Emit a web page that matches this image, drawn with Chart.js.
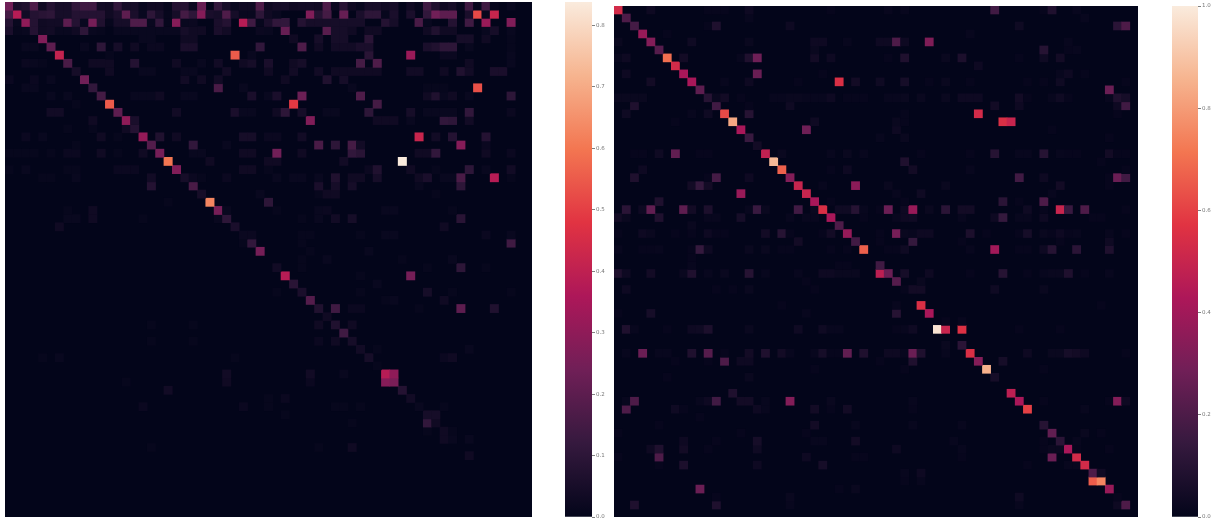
<!DOCTYPE html>
<html>
<head>
<meta charset="utf-8">
<title>heatmaps</title>
<script src="https://cdn.jsdelivr.net/npm/chart.js@4"></script>
<style>
    html, body { margin: 0; padding: 0; background: #fff; overflow: hidden; }
    canvas { position: absolute; display: block; }
    .map { background: #03051a; filter: blur(0.35px); }
</style>
</head>
<body>
<canvas id="map1" class="map" style="left:5px;top:2px"></canvas>
<canvas id="bar1" style="left:565px;top:-8px"></canvas>
<canvas id="map2" class="map" style="left:614px;top:6px"></canvas>
<canvas id="bar2" style="left:1172px;top:-4px"></canvas>
<script>
const leftMax = 0.838;
const rightMax = 1.0;
const leftStep = 0.1;
const rightStep = 0.2;

// each row is {column: value}, anything not listed is 0
const leftRows = [
    {0:.24,1:.055,2:.07,3:.17,4:.03,5:.08,6:.045,7:.045,8:.11,9:.14,10:.14,11:.035,12:.03,13:.11,14:.045,15:.045,16:.015,17:.03,18:.03,19:.01,20:.08,21:.08,22:.02,23:.22,25:.11,26:.045,27:.015,28:.03,29:.03,30:.17,31:.03,32:.045,33:.045,34:.03,35:.035,36:.035,37:.03,38:.17,39:.02,40:.09,41:.03,42:.015,43:.045,44:.045,45:.03,46:.045,48:.03,49:.01,50:.14,51:.07,52:.03,53:.045,54:.01,55:.14,56:.01,57:.14,58:.01,60:.015},
    {0:.15,1:.38,2:.035,3:.08,4:.09,5:.1,6:.045,7:.045,8:.08,9:.08,10:.08,11:.08,12:.03,13:.055,14:.2,15:.055,16:.015,17:.1,18:.045,19:.01,20:.045,21:.15,22:.1,23:.28,24:.055,25:.045,26:.17,27:.045,28:.015,29:.015,30:.1,31:.03,32:.015,36:.27,37:.08,38:.15,40:.22,42:.055,43:.1,44:.1,45:.01,46:.055,48:.055,50:.11,51:.24,52:.2,53:.2,55:.055,56:.52,57:.01,58:.42},
    {0:.08,1:.015,2:.3,3:.08,4:.03,5:.035,6:.035,7:.2,8:.08,9:.015,10:.25,11:.07,12:.01,13:.045,14:.045,15:.17,16:.17,17:.015,18:.11,19:.01,20:.28,21:.015,22:.02,25:.055,26:.08,28:.38,29:.14,30:.01,31:.055,32:.11,33:.11,35:.08,36:.045,37:.045,38:.045,39:.045,40:.045,41:.045,42:.045,45:.08,46:.045,49:.16,50:.015,53:.08,55:.14,57:.32,60:.27},
    {0:.055,1:.01,2:.015,3:.08,4:.03,5:.035,6:.015,7:.015,8:.03,9:.1,10:.015,11:.01,13:.015,14:.015,15:.015,16:.015,17:.015,18:.015,19:.015,20:.015,21:.045,22:.03,23:.03,25:.055,26:.035,30:.02,31:.015,33:.22,38:.19,39:.045,40:.045,41:.03,43:.03,44:.03,50:.03,51:.07,52:.03,53:.03,57:.015,58:.045,60:.015},
    {4:.27,16:.015,17:.015,21:.03,22:.03,34:.03,37:.045,39:.045,40:.045,43:.09,54:.045,55:.045,57:.03,60:.01},
    {2:.015,3:.015,5:.2,9:.015,11:.1,13:.045,15:.03,17:.02,18:.02,21:.055,22:.055,30:.11,35:.17,37:.03,39:.035,40:.035,41:.035,42:.055,43:.055,50:.055,51:.07,52:.1,53:.1,55:.015,60:.01},
    {6:.41,12:.01,27:.55,29:.015,43:.09,48:.32,52:.02,53:.02,60:.015},
    {2:.02,3:.015,4:.01,7:.16,10:.03,11:.03,12:.03,15:.08,20:.03,23:.015,25:.035,28:.03,29:.045,31:.055,34:.03,35:.045,42:.15,44:.17,55:.03,60:.015},
    {8:.045,12:.03,16:.015,17:.015,21:.015,22:.015,26:.035,31:.03,34:.035,37:.035,39:.03,40:.03,41:.03,42:.03,43:.03,44:.03,48:.035,49:.035,52:.03,54:.07,55:.035,58:.055,59:.055},
    {0:.02,3:.02,5:.015,9:.24,21:.035,23:.03,25:.035,33:.03,38:.07,40:.045},
    {2:.015,3:.015,10:.11,25:.16,28:.015,41:.015,50:.01,51:.01,52:.01,56:.53},
    {5:.015,7:.015,11:.15,15:.015,16:.015,17:.015,18:.03,21:.015,22:.015,29:.055,31:.015,32:.055,35:.23,42:.17,50:.03,51:.07,52:.015,53:.03,55:.015,60:.1},
    {8:.01,12:.55,34:.49,44:.15},
    {5:.035,6:.035,13:.2,20:.035,27:.055,28:.015,29:.015,32:.03,33:.1,35:.045,38:.015,39:.015,43:.1,48:.045,50:.015,51:.015,52:.015,53:.015,55:.11,60:.02},
    {10:.03,14:.3,15:.055,36:.27,44:.03,45:.03,46:.03,48:.015,52:.11,53:.1,55:.035},
    {7:.01,10:.01,14:.03,15:.08},
    {2:.02,4:.015,11:.03,13:.01,16:.31,18:.07,20:.03,28:.045,29:.045,31:.02,32:.02,35:.035,49:.42,51:.035,53:.08,57:.08},
    {8:.01,17:.18,22:.11,26:.015,37:.16,39:.1,41:.15,42:.035,54:.28,57:.02},
    {0:.01,1:.01,2:.01,3:.01,5:.01,7:.02,8:.02,11:.03,13:.01,16:.03,18:.25,22:.015,23:.015,28:.03,29:.03,32:.24,35:.03,41:.11,42:.09,49:.03,50:.03,51:.11,57:.03,60:.02},
    {19:.6,24:.03,31:.03,32:.03,40:.035,47:.838},
    {0:.01,2:.015,7:.01,8:.01,13:.02,14:.02,15:.02,20:.27,28:.03,29:.03,31:.01,43:.02,44:.07,48:.03,51:.01,55:.1,57:.015,60:.035},
    {4:.01,5:.01,8:.015,17:.035,21:.045,22:.02,23:.01,26:.02,32:.015,34:.015,35:.015,37:.015,39:.07,41:.03,42:.03,44:.045,49:.03,50:.055,52:.015,53:.015,54:.16,58:.38,60:.01},
    {17:.08,22:.16,37:.055,39:.045,41:.045,49:.015,54:.1},
    {23:.045,30:.015,37:.01,38:.03,39:.03,51:.01},
    {19:.01,24:.63,31:.1},
    {7:.01,10:.03,25:.25,26:.015,32:.01,37:.015,38:.02,45:.015,46:.015,53:.01},
    {7:.015,8:.015,10:.03,16:.01,25:.015,26:.1,35:.01,37:.015,39:.035,41:.045,54:.09},
    {6:.03,27:.055,52:.03},
    {28:.02,29:.02,35:.01,36:.01,42:.01,45:.015,46:.015,57:.02,60:.015},
    {28:.01,29:.11,35:.01,60:.14},
    {30:.25,36:.01,43:.015},
    {35:.01,38:.015,47:.01,53:.015},
    {32:.035,35:.01,50:.01,54:.1,57:.01},
    {33:.38,42:.01,48:.25},
    {34:.09,44:.015},
    {32:.01,35:.055,42:.01,50:.045,53:.01,60:.01},
    {36:.18,45:.01,46:.015,52:.03},
    {37:.07,39:.14,41:.02,42:.02,49:.01,54:.2,58:.07},
    {38:.03},
    {17:.01,22:.01,37:.03,39:.07,41:.03},
    {40:.14},
    {17:.01,22:.01,37:.02,39:.03,41:.045},
    {42:.035,44:.01,55:.015},
    {4:.01,6:.015,27:.01,43:.045,52:.02,53:.03},
    {44:.01},
    {26:.035,36:.035,40:.015,45:.38,46:.3},
    {14:.01,26:.03,36:.02,45:.28,46:.26},
    {19:.035,47:.08},
    {31:.01,33:.02,48:.035},
    {16:.02,28:.02,31:.01,39:.01,40:.01,42:.01,49:.015,52:.01},
    {33:.01,50:.045,51:.045},
    {41:.01,50:.11,51:.03},
    {50:.01,52:.03,53:.01},
    {52:.03,53:.015,55:.015},
    {17:.01,37:.01,41:.03},
    {55:.03}
];

const rightRows = [
    {0:.53,4:.03,11:.01,12:.01,13:.01,16:.03,26:.01,33:.015,35:.015,46:.17,52:.01,53:.08,56:.015},
    {1:.2,16:.015,57:.015},
    {2:.18,11:.01,12:.08,21:.03,49:.035,61:.11,62:.2},
    {3:.38,6:.01,43:.015},
    {0:.02,4:.33,9:.035,16:.02,24:.03,25:.03,28:.015,32:.03,33:.03,34:.2,35:.03,38:.32,55:.015},
    {5:.22,24:.02,52:.1,55:.01,56:.015},
    {0:.015,1:.03,6:.7,8:.045,15:.015,16:.08,17:.28,24:.045,26:.03,33:.01,35:.08,40:.02,42:.07,49:.01,52:.035,54:.045},
    {7:.53,44:.03},
    {1:.03,8:.42,17:.27,25:.01,54:.015,55:.03,57:.01},
    {4:.045,9:.42,13:.015,16:.03,22:.01,27:.55,29:.045,32:.035,35:.055,38:.01,40:.02,43:.01,50:.01,52:.01,54:.035,62:.01},
    {10:.24,60:.27},
    {0:.02,1:.02,2:.02,3:.02,11:.1,12:.02,13:.045,15:.01,19:.015,20:.015,21:.02,22:.02,23:.015,24:.015,25:.015,26:.03,28:.01,29:.01,30:.01,33:.015,34:.015,35:.02,37:.02,40:.02,42:.03,43:.03,44:.03,49:.045,50:.01,53:.015,54:.035,55:.01,60:.015,61:.08,62:.055},
    {2:.08,12:.17,16:.01,21:.035,46:.045,49:.03,61:.03,62:.17},
    {1:.035,9:.015,11:.035,13:.62,16:.1,35:.01,44:.53,61:.01},
    {7:.01,14:.83,24:.035,34:.02,35:.01,47:.55,48:.5},
    {15:.42,23:.28,34:.03,53:.01},
    {16:.15,32:.015,35:.02,60:.01},
    {17:.045},
    {2:.01,3:.01,5:.035,7:.25,10:.01,11:.01,18:.48,20:.02,26:.015,28:.02,30:.015,37:.01,43:.01,46:.1,49:.015,50:.015,52:.1,54:.015,55:.01,56:.01,60:.045,61:.01,62:.01},
    {19:.87,35:.08,59:.01},
    {3:.03,20:.67,26:.01,28:.03,36:.045,43:.015,62:.01},
    {2:.08,11:.01,12:.18,16:.03,21:.33,49:.17,52:.03,60:.01,61:.27,62:.17},
    {9:.045,10:.14,11:.045,22:.5,25:.015,29:.35,33:.02,40:.02,54:.045,60:.01},
    {15:.38,23:.5,34:.015,37:.035,53:.015},
    {5:.08,24:.42,26:.01,35:.01,47:.11,49:.01,52:.2},
    {1:.11,3:.03,4:.25,8:.24,9:.045,11:.07,16:.015,17:.15,18:.02,22:.17,24:.02,25:.55,27:.035,28:.035,29:.1,30:.015,32:.01,33:.27,35:.03,36:.38,38:.02,40:.11,42:.045,43:.045,50:.035,52:.01,54:.5,55:.15,57:.2,62:.01},
    {0:.045,1:.02,5:.08,11:.015,12:.015,15:.055,21:.015,23:.015,24:.015,26:.42,30:.01,34:.015,35:.03,36:.035,42:.015,46:.03,47:.14,49:.015,50:.015,52:.03,58:.01,59:.01},
    {9:.02,27:.2},
    {0:.01,3:.03,4:.02,7:.01,9:.01,11:.03,12:.01,13:.01,18:.045,20:.1,21:.01,25:.01,26:.045,28:.37,32:.01,34:.3,35:.02,36:.015,37:.03,38:.03,43:.07,45:.01,49:.01,50:.055,52:.02,53:.01,54:.03,55:.01,56:.015,60:.015,62:.01},
    {22:.045,29:.17,32:.01,36:.14,42:.01,54:.01,60:.035},
    {0:.015,3:.01,4:.01,5:.015,9:.01,10:.14,11:.03,16:.02,18:.02,20:.01,21:.01,26:.01,28:.01,30:.67,33:.01,34:.01,35:.035,43:.015,46:.4,49:.01,50:.01,52:.03,53:.1,56:.11,60:.08},
    {9:.01},
    {9:.015,27:.01,28:.01,32:.17},
    {0:.08,1:.03,4:.045,8:.02,9:.08,11:.015,13:.02,16:.1,18:.015,22:.015,25:.03,26:.03,27:.02,28:.02,29:.02,32:.47,33:.27,35:.055,38:.03,43:.01,47:.1,50:.01,52:.015,53:.02,54:.02,55:.08,57:.01,60:.015},
    {23:.01,34:.22,37:.02},
    {1:.03,12:.01,14:.01,16:.02,24:.01,35:.01,36:.045,37:.045,46:.035,52:.02},
    {},
    {20:.01,34:.015,37:.55,59:.01},
    {0:.01,4:.055,23:.015,34:.1,38:.42},
    {40:.01,42:.015},
    {1:.08,2:.015,6:.01,9:.03,10:.035,11:.07,16:.02,22:.035,25:.035,26:.015,27:.015,34:.01,35:.015,36:.035,39:.98,40:.5,42:.56,49:.01,54:.01},
    {},
    {40:.02,42:.11},
    {1:.015,3:.27,5:.015,6:.015,9:.08,11:.22,13:.01,16:.045,18:.08,20:.045,21:.015,24:.015,25:.055,26:.01,27:.01,28:.25,30:.08,33:.03,34:.03,35:.015,36:.27,37:.08,40:.015,43:.55,50:.03,53:.02,54:.02,55:.055,56:.045,57:.03,62:.01},
    {7:.01,11:.01,13:.2,15:.03,16:.03,32:.01,36:.08,44:.33,47:.055},
    {24:.01,35:.01,45:.85,52:.01},
    {6:.01,16:.02,46:.055},
    {},
    {14:.08,48:.47},
    {1:.015,2:.2,10:.015,11:.03,12:.17,15:.045,16:.045,18:.015,21:.33,26:.02,36:.015,49:.42,52:.01,60:.01,61:.33,62:.03},
    {1:.2,7:.035,8:.01,17:.03,18:.015,24:.045,26:.01,28:.045,36:.01,50:.6,57:.015},
    {10:.01},
    {5:.01,24:.045,29:.015,36:.015,42:.015,52:.1},
    {0:.01,15:.01,23:.01,53:.25,57:.02,59:.01},
    {8:.03,12:.01,17:.055,24:.015,25:.015,29:.045,41:.015,52:.01,54:.11,56:.015},
    {4:.03,5:.08,8:.045,11:.01,17:.035,34:.03,42:.015,52:.01,53:.02,54:.02,55:.42,56:.01,60:.01},
    {0:.01,5:.2,23:.03,29:.01,30:.01,42:.01,53:.27,56:.53},
    {5:.01,8:.07,17:.03,25:.055,50:.01,55:.015,56:.015,57:.53},
    {35:.015,37:.03,58:.2,59:.035},
    {35:.01,37:.015,58:.66,59:.75},
    {10:.27,27:.01,29:.02,60:.38},
    {12:.01,21:.02,49:.035,61:.01},
    {2:.08,12:.08,21:.015,49:.015,61:.03,62:.2}
];

// seaborn rocket, evenly spaced samples
const rocket = ["#03051a", "#35193e", "#701f57", "#ad1759", "#e13342", "#f37651", "#f6b48f", "#faebdd"];

function hexToRgb(hex) {
    return [1, 3, 5].map(i => parseInt(hex.slice(i, i + 2), 16));
}

function rocketColor(t) {
    t = Math.min(Math.max(t, 0), 1);
    const pos = t * (rocket.length - 1);
    const i = Math.min(Math.floor(pos), rocket.length - 2);
    const a = hexToRgb(rocket[i]);
    const b = hexToRgb(rocket[i + 1]);
    const f = pos - i;
    const c = a.map((v, k) => Math.round(v + (b[k] - v) * f));
    return `rgb(${c[0]},${c[1]},${c[2]})`;
}

function drawMap(id, rows, size, maxVal, w, h) {
    const el = document.getElementById(id);
    el.width = w;
    el.height = h;
    el.style.width = w + "px";
    el.style.height = h + "px";

    const labels = Array.from({ length: size }, (_, i) => i);
    const datasets = rows.map((row, r) => ({
        data: labels.map(c => row[c] === undefined ? null : [r, r + 1]),
        backgroundColor: labels.map(c => rocketColor((row[c] || 0) / maxVal)),
        borderWidth: 0,
        barPercentage: 1,
        categoryPercentage: 1,
        grouped: false
    }));

    return new Chart(el, {
        type: "bar",
        data: { labels: labels, datasets: datasets },
        options: {
            responsive: false,
            animation: false,
            events: [],
            layout: { padding: 0 },
            plugins: { legend: { display: false }, tooltip: { enabled: false } },
            scales: {
                x: { display: false },
                y: { display: false, reverse: true, min: 0, max: size }
            }
        }
    });
}

function drawBar(id, maxVal, step, w, h, axisWidth) {
    const el = document.getElementById(id);
    el.width = w;
    el.height = h;
    el.style.width = w + "px";
    el.style.height = h + "px";

    return new Chart(el, {
        type: "bar",
        data: {
            labels: [""],
            datasets: [{
                data: [[0, maxVal]],
                barPercentage: 1,
                categoryPercentage: 1,
                borderWidth: 0,
                backgroundColor: function (ctx) {
                    const area = ctx.chart.chartArea;
                    if (!area) return rocket[0];
                    const g = ctx.chart.ctx.createLinearGradient(0, area.bottom, 0, area.top);
                    rocket.forEach((c, i) => g.addColorStop(i / (rocket.length - 1), c));
                    return g;
                }
            }]
        },
        options: {
            responsive: false,
            animation: false,
            events: [],
            layout: { padding: { top: 10, bottom: 10 } },
            plugins: { legend: { display: false }, tooltip: { enabled: false } },
            scales: {
                x: { display: false },
                y: {
                    position: "right",
                    min: 0,
                    max: maxVal,
                    afterFit: scale => { scale.width = axisWidth; },
                    border: { display: false },
                    grid: { drawOnChartArea: false, tickLength: 3, color: "#808080", lineWidth: 1 },
                    ticks: {
                        stepSize: step,
                        includeBounds: false,
                        padding: 1,
                        color: "#777",
                        font: { family: "DejaVu Sans", size: 5.5 },
                        callback: v => Number(v).toFixed(1)
                    }
                }
            }
        }
    });
}

drawMap("map1", leftRows, 63, leftMax, 527, 515);
drawBar("bar1", leftMax, leftStep, 45, 535, 18);
drawMap("map2", rightRows, 64, rightMax, 524, 511);
drawBar("bar2", rightMax, rightStep, 41, 531, 15);
</script>
</body>
</html>
